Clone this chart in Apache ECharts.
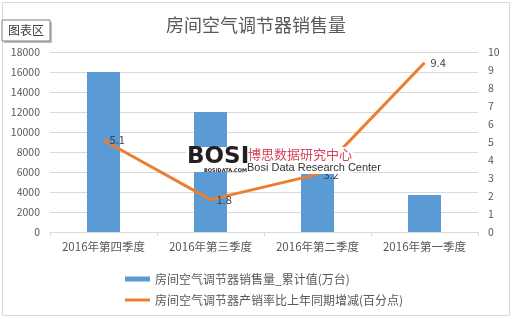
<!DOCTYPE html>
<html><head><meta charset="utf-8">
<script src="https://cdn.jsdelivr.net/npm/echarts@6/dist/echarts.min.js"></script>
<style>html,body{margin:0;padding:0;background:#fff}#c{width:512px;height:319px}</style>
</head><body><div id="c"></div>
<script>
const categories = ['2016年第四季度','2016年第三季度','2016年第二季度','2016年第一季度'];
const salesValues = [16000, 12000, 5900, 3700];
const rateValues = [5.1, 1.8, 3.2, 9.4];
const barName = '房间空气调节器销售量_累计值(万台)';
const lineName = '房间空气调节器产销率比上年同期增减(百分点)';
const titleText = '房间空气调节器销售量';

const FONT = '"Noto Sans CJK SC", "Noto Sans", sans-serif';
const chart = echarts.init(document.getElementById('c'), null, {renderer:'canvas'});
chart.setOption({
  animation:false,
  textStyle:{fontFamily:FONT},
  title:{text:titleText,left:'center',top:11,textStyle:{fontSize:18,fontWeight:'normal',color:'#595959',fontFamily:FONT}},
  grid:{left:50,right:34,top:52,bottom:87,containLabel:false},
  legend:{orient:'vertical',left:120,top:268,itemGap:9,itemWidth:25,itemHeight:5,
    textStyle:{fontSize:12,color:'#595959',fontFamily:FONT},
    data:[{name:barName,icon:'rect'},{name:lineName,icon:'path://M0,1h25v3h-25z'}]},
  xAxis:{type:'category',data:categories,
    axisLine:{lineStyle:{color:'#d9d9d9'}},
    axisTick:{show:true,length:4,lineStyle:{color:'#d9d9d9'}},
    axisLabel:{interval:0,fontSize:11.5,color:'#595959',margin:9,fontFamily:FONT}},
  yAxis:[
    {type:'value',min:0,max:18000,interval:2000,
      axisLine:{show:false},axisTick:{show:false},
      axisLabel:{fontSize:10.5,color:'#595959',margin:10,fontFamily:FONT,formatter:v=>String(v)},
      splitLine:{lineStyle:{color:'#d9d9d9'}}},
    {type:'value',min:0,max:10,interval:1,
      axisLine:{show:false},axisTick:{show:false},
      axisLabel:{fontSize:10.5,color:'#595959',margin:10,fontFamily:FONT},
      splitLine:{show:false}}
  ],
  series:[
    {name:barName,type:'bar',data:salesValues,barWidth:33,itemStyle:{color:'#5b9bd5'},z:2},
    {name:lineName,type:'line',yAxisIndex:1,data:rateValues,symbol:'circle',symbolSize:0,showSymbol:true,
      lineStyle:{color:'#ed7d31',width:3},itemStyle:{color:'#ed7d31'},z:3,
      label:{show:true,position:'right',distance:6,fontSize:11,color:'#404040',fontFamily:FONT}}
  ],
  graphic:[
    {type:'rect',shape:{x:2.5,y:2.5,width:507,height:313},style:{fill:'none',stroke:'#d9d9d9',lineWidth:1},z:0,silent:true},
    {type:'rect',zlevel:1,x:186,y:147,shape:{x:0,y:0,width:58,height:25},style:{fill:'#ffffff'}},
    {type:'rect',zlevel:1,x:245,y:147,shape:{x:0,y:0,width:108,height:27},style:{fill:'rgba(255,255,255,0.95)'}},
    {type:'text',zlevel:1,x:187,y:146,style:{text:'BOSI',font:'900 23px "DejaVu Sans", sans-serif',fill:'#231f20'}},
    {type:'text',zlevel:1,x:204,y:168,style:{text:'BOSIDATA.COM',font:'bold 5px "DejaVu Sans", sans-serif',fill:'#231f20'}},
    {type:'text',zlevel:1,x:248,y:148,style:{text:'博思数据研究中心',font:'13px "Noto Sans CJK SC"',fill:'#d5475f'}},
    {type:'text',zlevel:1,x:247,y:162,style:{text:'Bosi Data Research Center',font:'11px "Liberation Sans Narrow","Liberation Sans",sans-serif',fill:'#333333'}},
    {type:'rect',zlevel:1,x:4,y:22,shape:{x:0,y:0,width:48,height:21},style:{fill:'rgba(0,0,0,0.25)'}},
    {type:'rect',zlevel:1,z:2,x:2,y:20,shape:{x:0,y:0,width:48,height:21},style:{fill:'#ffffff',stroke:'#7f7f7f',lineWidth:1}},
    {type:'text',zlevel:1,z:3,x:8,y:24,style:{text:'图表区',font:'12px "Noto Sans CJK SC"',fill:'#404040'}}
  ]
});
</script></body></html>
